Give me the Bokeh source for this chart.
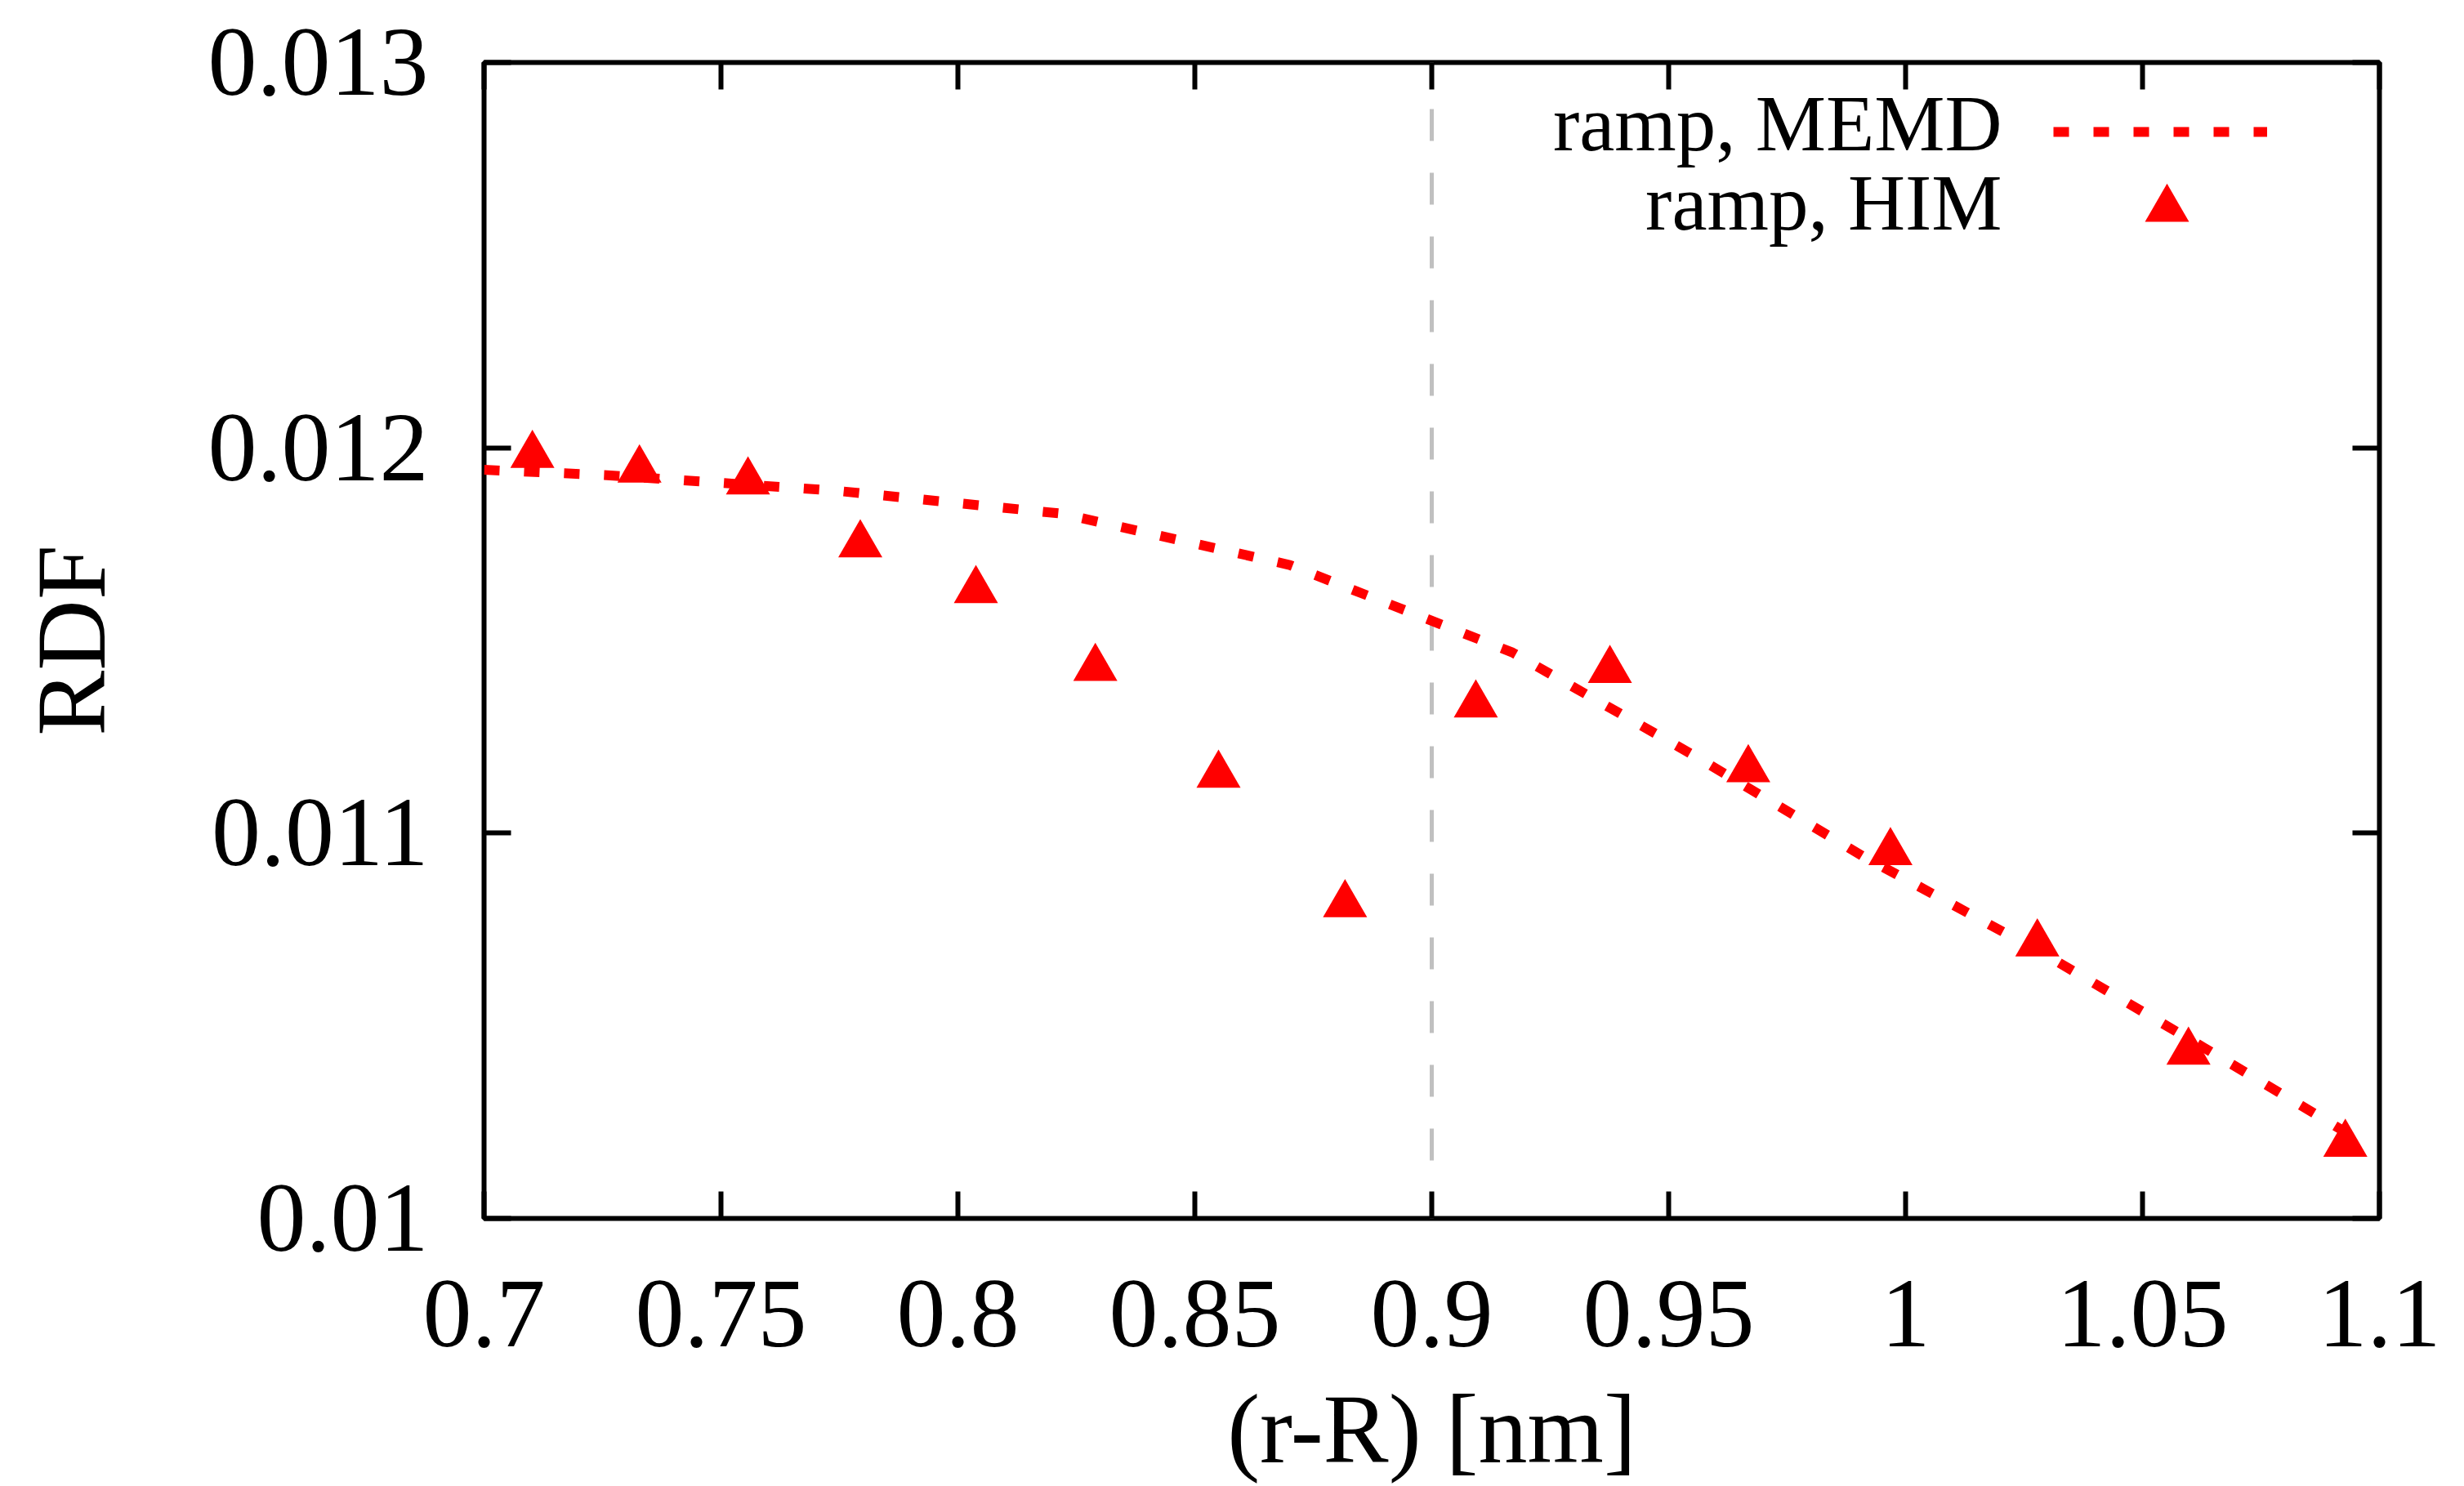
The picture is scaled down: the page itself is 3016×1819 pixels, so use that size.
from bokeh.plotting import figure
from bokeh.models import Range1d, LinearAxis, FixedTicker, Span, Legend, LegendItem, Label
from bokeh.embed import file_html
from bokeh.resources import INLINE

# ---- data ----
memd_x = [0.700, 0.726, 0.774, 0.822, 0.870, 0.917, 0.955, 0.991, 1.029, 1.063, 1.096]
memd_y = [0.011943, 0.011929, 0.011889, 0.011829, 0.011696, 0.011469, 0.011204,
          0.010940, 0.010688, 0.010443, 0.010201]

him_x = [0.7102, 0.7328, 0.7557, 0.7794, 0.8038, 0.8290, 0.8550, 0.8817,
         0.9093, 0.9376, 0.9668, 0.9968, 1.0278, 1.0597, 1.0928]
him_y = [0.011981, 0.011943, 0.011912, 0.011749, 0.011630, 0.011428, 0.011151, 0.010815,
         0.011333, 0.011423, 0.011165, 0.010950, 0.010713, 0.010432, 0.010193]

x_ticks = [0.7, 0.75, 0.8, 0.85, 0.9, 0.95, 1.0, 1.05, 1.1]
x_tick_labels = ["0.7", "0.75", "0.8", "0.85", "0.9", "0.95", "1", "1.05", "1.1"]
y_ticks = [0.010, 0.011, 0.012, 0.013]
y_tick_labels = ["0.01", "0.011", "0.012", "0.013"]
divider_x = 0.9
series_labels = ["ramp, MEMD", "ramp, HIM"]
x_label = "(r-R) [nm]"
y_label = "RDF"

FONT = "Liberation Serif"
RED = "#ff0000"

p = figure(width=3016, height=1819,
           x_range=Range1d(0.7, 1.1), y_range=Range1d(0.01, 0.013),
           output_backend="svg", toolbar_location=None,
           min_border_left=592, min_border_right=104,
           min_border_top=76, min_border_bottom=328,
           x_axis_label=x_label, y_axis_label=y_label)

p.background_fill_color = "white"
p.border_fill_color = "white"
p.outline_line_color = "black"
p.outline_line_width = 6
p.xgrid.grid_line_color = None
p.ygrid.grid_line_color = None

xa = p.xaxis[0]
ya = p.yaxis[0]
xa.ticker = FixedTicker(ticks=x_ticks)
ya.ticker = FixedTicker(ticks=y_ticks)
xa.major_label_overrides = dict(zip(x_ticks, x_tick_labels))
ya.major_label_overrides = dict(zip(y_ticks, y_tick_labels))

for ax in (xa, ya):
    ax.axis_line_color = None
    ax.major_tick_in = 33
    ax.major_tick_out = 0
    ax.major_tick_line_width = 6
    ax.minor_tick_line_color = None
    ax.major_label_text_font = FONT
    ax.major_label_text_font_size = "120px"
    ax.major_label_text_color = "black"
    ax.axis_label_text_font = FONT
    ax.axis_label_text_font_size = "120px"
    ax.axis_label_text_font_style = "normal"
    ax.axis_label_text_color = "black"

xa.major_label_standoff = 77
xa.axis_label_standoff = 32
ya.major_label_standoff = 68
ya.axis_label_standoff = 98

# mirrored ticks on top and right
for place, ticks in (("above", x_ticks), ("right", y_ticks)):
    m = LinearAxis(ticker=FixedTicker(ticks=ticks),
                   major_label_text_font_size="1px", major_label_text_color=None,
                   major_label_standoff=0, axis_line_color=None,
                   major_tick_in=33, major_tick_out=0, major_tick_line_width=6,
                   minor_tick_line_color=None)
    p.add_layout(m, place)

# vertical marker line
p.add_layout(Span(location=divider_x, dimension="height", line_color="#c0c0c0",
                  line_width=5, line_dash="39 39", line_dash_offset=21, level="underlay"))

line_r = p.line(memd_x, memd_y, line_color=RED, line_width=12, line_dash="19 30",
                line_cap="butt")
tri_r = p.scatter(him_x, him_y, marker="triangle", size=54, fill_color=RED, line_color=None)

# legend glyphs (text drawn on the left by labels)
common = dict(padding=0, margin=0, spacing=0, label_standoff=0, label_width=0,
              label_height=0, border_line_color=None, background_fill_alpha=0,
              label_text_font_size="1px", glyph_width=262)
leg1 = Legend(items=[LegendItem(label=" ", renderers=[line_r])], location=(1921, 1280),
              glyph_height=100, **common)
leg2 = Legend(items=[LegendItem(label=" ", renderers=[tri_r])], location=(1929, 1168),
              glyph_height=135, **common)
p.add_layout(leg1)
p.add_layout(leg2)

for txt, yy in zip(series_labels, (1340, 1243)):
    p.add_layout(Label(x=1858, y=yy, x_units="screen", y_units="screen", text=txt,
                       text_align="right", text_baseline="alphabetic",
                       text_font=FONT, text_font_size="97px", text_color="black"))

open("out.html", "w").write(file_html(p, INLINE))
